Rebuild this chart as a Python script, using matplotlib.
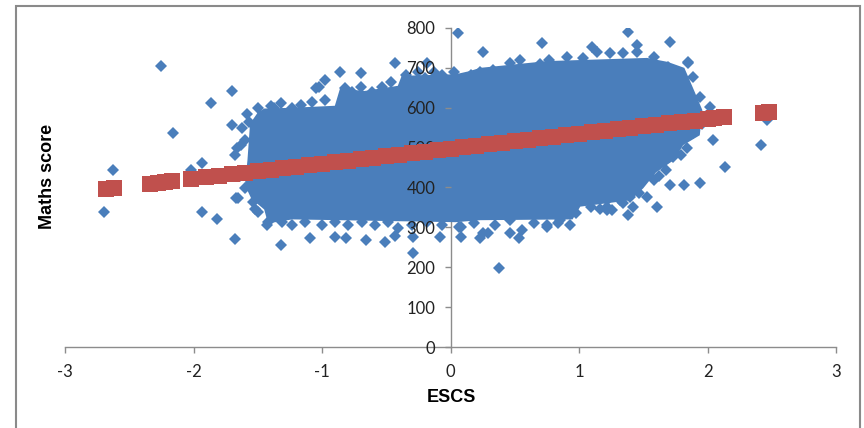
import matplotlib
matplotlib.use("Agg")
import matplotlib.pyplot as plt
from matplotlib.patches import Rectangle

plt.rcParams['axes.unicode_minus'] = False

# scattered students (ESCS, maths score) that stand out of the dense cloud
escs = [-2.70, -2.63, -2.25, -2.16, -2.02, -1.93, -1.86, -1.70, -1.70, -1.63,
        -1.93, -1.82, -1.68, -1.67, -1.43, -1.32, -1.37, -1.09, -0.90, -0.81,
        -0.66, -0.51, -0.43, -0.29, -0.29, -1.02, -0.98, -0.86, -0.70, -0.43,
        -0.18, 0.06, 0.25, 0.71, 1.10, 1.38, 1.45, 1.71, 1.85, 2.04,
        2.14, 2.42, 2.46, 1.94, 1.82, 1.71, 1.79, 1.61, 1.34, 1.26,
        1.38, 1.42, 0.38, -0.08, 0.08, 0.08, 0.23, 0.29, 0.46, 0.53,
        0.75, 0.84, 0.93, 1.22]
score = [338, 444, 705, 536, 444, 461, 612, 642, 556, 506,
         338, 321, 270, 373, 305, 255, 599, 273, 275, 273,
         268, 263, 278, 275, 235, 652, 669, 689, 687, 712,
         712, 787, 740, 762, 752, 790, 757, 765, 715, 519,
         451, 506, 569, 411, 406, 406, 481, 351, 361, 343,
         331, 351, 198, 275, 275, 300, 273, 285, 285, 273,
         305, 310, 305, 343]

# students along the ragged rim of the cloud
rim_escs = [-1.50, -1.23, -1.16, -1.05, -0.82, -0.77, -0.61, -0.53, -0.46, -0.35,
            -0.30, -0.20, -0.07, 0.10, 0.23, 0.33, 0.46, 0.54, 0.64, 0.77,
            0.91, 1.03, 1.14, 1.24, 1.34, 1.45, 1.58, 1.69, 1.85, 1.89,
            1.94, 2.02, 1.79, 1.89, 1.73, 1.68, 1.58, 1.47, 1.53, 1.32,
            1.22, 0.07, 0.18, 0.25, 0.46, 0.56, 0.75, 0.85, 0.98, 1.09,
            1.22, -1.50, -1.42, -1.31, -1.23, -1.13, -1.00, -0.90, -0.80, -0.69,
            -0.59, -0.49, -0.41, -0.30, -0.18, -0.07, -1.68, -1.62, -1.57, -1.60,
            -1.65, -1.54,
            -1.40, -1.32, -1.08, -0.98, -0.70, -0.13, -0.25, 0.03, 0.16, 0.70,
            0.35, 0.65, 1.16, 1.40, 1.62, 1.84, 1.96, 1.99,
            -1.64, -1.66, -1.60, -1.52, -1.58]
rim_score = [599, 599, 607, 649, 649, 639, 639, 652, 664, 682,
             657, 674, 682, 662, 690, 694, 712, 720, 694, 720,
             727, 725, 740, 737, 737, 740, 727, 702, 712, 677,
             627, 602, 519, 536, 476, 444, 418, 386, 376, 368,
             351, 300, 310, 285, 318, 293, 300, 318, 336, 351,
             368, 338, 313, 313, 305, 313, 305, 313, 305, 313,
             305, 313, 298, 305, 313, 305, 481, 549, 564, 398,
             373, 363,
             605, 612, 615, 619, 652, 690, 690, 690, 682, 710,
             305, 310, 345, 376, 430, 500, 560, 580,
             430, 500, 520, 345, 585]

# outline of the dense cloud where the diamonds overlap completely
cloud_escs = [-1.58, -1.56, -1.50, -1.45, -1.23, -0.90, -0.86, -0.67, -0.41, -0.38,
              0.04, 0.15, 0.23, 0.75, 1.53, 1.69, 1.82, 1.90, 1.96, 1.94,
              1.81, 1.74, 1.60, 1.50, 1.40, 1.01, 0.95, 0.23, 0.04, -1.23,
              -1.42, -1.45, -1.55, -1.60]
cloud_score = [469, 560, 588, 598, 600, 605, 648, 642, 655, 680,
               684, 692, 700, 717, 725, 715, 700, 640, 594, 531,
               506, 469, 438, 398, 368, 352, 320, 318, 313, 320,
               310, 345, 372, 406]

# predicted maths score
fit_escs = [-2.68, -2.62, -2.34, -2.28, -2.22, -2.17, -2.02, -1.9, -1.8, -1.7,
            -1.6, -1.5, -1.4, -1.3, -1.2, -1.1, -1.0, -0.9, -0.8, -0.7,
            -0.6, -0.5, -0.4, -0.3, -0.2, -0.1, 0.0, 0.1, 0.2, 0.3,
            0.4, 0.5, 0.6, 0.7, 0.8, 0.9, 1.0, 1.1, 1.2, 1.3,
            1.4, 1.5, 1.6, 1.7, 1.8, 1.9, 2.0, 2.05, 2.13, 2.43, 2.48]
fit_score = [396, 399, 409, 412, 414, 416, 421, 426, 430, 433,
             437, 441, 444, 448, 452, 456, 460, 463, 467, 471,
             475, 478, 482, 486, 490, 493, 497, 501, 505, 508,
             512, 516, 520, 523, 527, 531, 535, 538, 542, 546,
             550, 553, 557, 561, 565, 568, 572, 574, 577, 588, 590]

blue = '#4a7ebb'
red = '#c0504d'

fig = plt.figure(figsize=(8.64, 4.28), dpi=100)
ax = fig.add_axes([65 / 864, 81 / 428, 771 / 864, 319 / 428])

ax.fill(cloud_escs, cloud_score, color=blue, lw=0, zorder=1)
ax.plot(rim_escs, rim_score, 'D', color=blue, ms=6.6, mew=0, zorder=1.5)
ax.plot(escs, score, 'D', color=blue, ms=6.6, mew=0, zorder=1.5)
ax.plot(fit_escs, fit_score, 's', color=red, ms=11.5, mew=0, zorder=2)

ax.set_xlim(-3, 3)
ax.set_ylim(0, 800)
ax.set_xticks(range(-3, 4))
ax.set_yticks(range(0, 801, 100))

for s in ['top', 'right']:
    ax.spines[s].set_visible(False)
ax.spines['left'].set_position(('data', 0))
ax.spines['left'].set_zorder(0.5)
ax.spines['bottom'].set_zorder(0.5)
for s in ['left', 'bottom']:
    ax.spines[s].set_color('#8c8c8c')
    ax.spines[s].set_linewidth(1)

ax.tick_params(direction='out', length=4, width=1, color='#8c8c8c',
               labelsize=12, labelcolor='#222222')
ax.tick_params(axis='x', pad=8)
ax.tick_params(axis='y', pad=7)
for lab in ax.get_xticklabels() + ax.get_yticklabels():
    lab.set_family('Lato')

fig.text(451 / 864, 1 - 398 / 428, 'ESCS', ha='center', va='center',
         fontsize=13, fontweight='bold', family='Liberation Sans')
fig.text(47 / 864, 1 - 176 / 428, 'Maths score', ha='center', va='center',
         rotation=90, fontsize=13, fontweight='bold', family='Liberation Sans')

# chart area border
fig.patches.append(Rectangle((16 / 864, -0.02), 844 / 864, 1 - 6 / 428 + 0.02,
                             transform=fig.transFigure, fill=False,
                             edgecolor='#8a8a8a', linewidth=1.5))

fig.savefig('out.png', dpi=100)
